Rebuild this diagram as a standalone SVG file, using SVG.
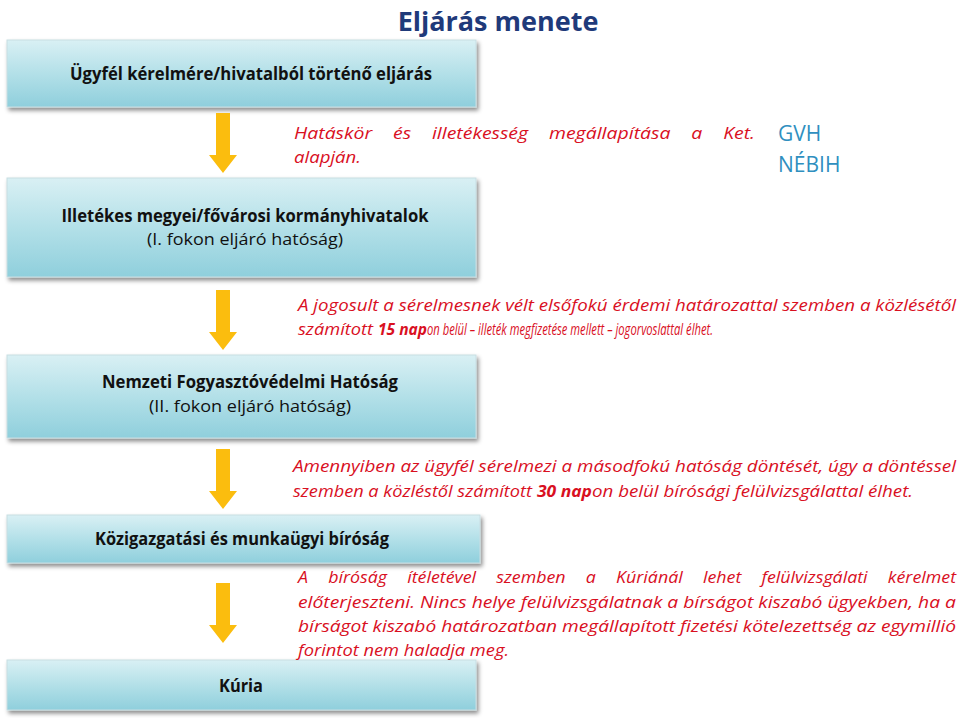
<svg xmlns="http://www.w3.org/2000/svg" width="960" height="718" viewBox="0 0 960 718">
<defs>
<linearGradient id="g" x1="0" y1="0" x2="0" y2="1"><stop offset="0" stop-color="#d9f0f4"/><stop offset="0.5" stop-color="#b3e0e8"/><stop offset="1" stop-color="#8fcfdc"/></linearGradient>
<filter id="sh" x="-5%" y="-10%" width="110%" height="130%"><feDropShadow dx="2" dy="3" stdDeviation="2" flood-color="#000" flood-opacity="0.45"/></filter>
<path id="arr" d="M-7,0 H7 V42 H14 L0,60 L-14,42 H-7 Z" fill="#fbbd0e"/>
</defs>
<style>
.box{fill:url(#g);stroke:#c8dde2;stroke-width:1;filter:url(#sh)}
.bt{font-family:"Open Sans","Liberation Sans",sans-serif;font-size:17px;fill:#111;text-anchor:middle;font-weight:bold}
.nt{font-family:"Open Sans","Liberation Sans",sans-serif;font-size:17px;fill:#111;text-anchor:middle}
.r{font-family:"Open Sans","Liberation Sans",sans-serif;font-size:16px;fill:#d9101f;font-style:italic}
.b{font-weight:bold}
</style>
<rect width="960" height="718" fill="#fff"/>
<text x="498" y="31" font-family="'Open Sans','Liberation Sans',sans-serif" font-size="27" font-weight="bold" fill="#1f3a7a" text-anchor="middle">Eljárás menete</text>
<g id="n1"><rect class="box" x="7" y="40" width="469" height="67"/><text class="bt" x="251" y="80" textLength="362" lengthAdjust="spacingAndGlyphs">Ügyfél kérelmére/hivatalból történő eljárás</text></g>
<g id="n2"><rect class="box" x="7" y="178" width="469" height="99"/><text class="bt" x="245" y="222" textLength="367" lengthAdjust="spacingAndGlyphs">Illetékes megyei/fővárosi kormányhivatalok</text><text class="nt" x="245" y="245" textLength="196" lengthAdjust="spacingAndGlyphs">(I. fokon eljáró hatóság)</text></g>
<g id="n3"><rect class="box" x="7" y="355" width="469" height="83"/><text class="bt" x="250" y="388" textLength="296" lengthAdjust="spacingAndGlyphs">Nemzeti Fogyasztóvédelmi Hatóság</text><text class="nt" x="250" y="412" textLength="202" lengthAdjust="spacingAndGlyphs">(II. fokon eljáró hatóság)</text></g>
<g id="n4"><rect class="box" x="7" y="515" width="473" height="48"/><text class="bt" x="242" y="545" textLength="294" lengthAdjust="spacingAndGlyphs">Közigazgatási és munkaügyi bíróság</text></g>
<g id="n5"><rect class="box" x="7" y="660" width="469" height="50"/><text class="bt" x="241" y="692" textLength="44" lengthAdjust="spacingAndGlyphs">Kúria</text></g>
<g id="connectors">
<use href="#arr" x="223" y="113"/>
<use href="#arr" x="223" y="290"/>
<use href="#arr" x="223" y="449"/>
<use href="#arr" x="223" y="583"/>
</g>
<g id="labels">
<text class="r" x="294" y="139" style="word-spacing:13px" textLength="461" lengthAdjust="spacingAndGlyphs">Hatáskör és illetékesség megállapítása a Ket.</text>
<text class="r" x="294" y="163" textLength="67" lengthAdjust="spacingAndGlyphs">alapján.</text>
<text x="778" y="141" font-family="'Open Sans','Liberation Sans',sans-serif" font-size="21" fill="#2f8fbf">GVH</text>
<text x="778" y="172" font-family="'Open Sans','Liberation Sans',sans-serif" font-size="21" fill="#2f8fbf">NÉBIH</text>
<text class="r" x="298" y="311" textLength="658" lengthAdjust="spacingAndGlyphs">A jogosult a sérelmesnek vélt elsőfokú érdemi határozattal szemben a közlésétől</text>
<text class="r" x="298" y="335" textLength="75" lengthAdjust="spacingAndGlyphs">számított</text>
<text class="r b" x="378" y="335" textLength="49" lengthAdjust="spacingAndGlyphs">15 nap</text>
<text class="r" x="427" y="335" textLength="286" lengthAdjust="spacingAndGlyphs">on belül – illeték megfizetése mellett – jogorvoslattal élhet.</text>
<text class="r" x="293" y="472" textLength="663" lengthAdjust="spacingAndGlyphs">Amennyiben az ügyfél sérelmezi a másodfokú hatóság döntését, úgy a döntéssel</text>
<text class="r" x="293" y="497" textLength="239" lengthAdjust="spacingAndGlyphs">szemben a közléstől számított</text>
<text class="r b" x="537" y="497" textLength="55" lengthAdjust="spacingAndGlyphs">30 nap</text>
<text class="r" x="592" y="497" textLength="321" lengthAdjust="spacingAndGlyphs">on belül bírósági felülvizsgálattal élhet.</text>
<text class="r" x="298" y="583" style="word-spacing:14px" textLength="658" lengthAdjust="spacingAndGlyphs">A bíróság ítéletével szemben a Kúriánál lehet felülvizsgálati kérelmet</text>
<text class="r" x="298" y="608" textLength="658" lengthAdjust="spacingAndGlyphs">előterjeszteni. Nincs helye felülvizsgálatnak a bírságot kiszabó ügyekben, ha a</text>
<text class="r" x="298" y="632" textLength="658" lengthAdjust="spacingAndGlyphs">bírságot kiszabó határozatban megállapított fizetési kötelezettség az egymillió</text>
<text class="r" x="298" y="656" textLength="211" lengthAdjust="spacingAndGlyphs">forintot nem haladja meg.</text>
</g>
</svg>
